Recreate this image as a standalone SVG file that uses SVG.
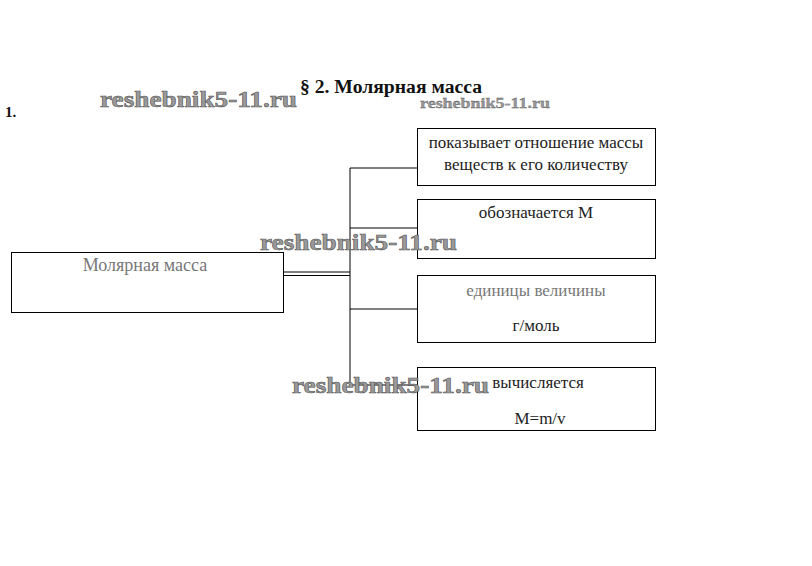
<svg xmlns="http://www.w3.org/2000/svg" width="812" height="566" viewBox="0 0 812 566">
<style>
.box{fill:#fff;stroke:#000;stroke-width:1}
.ln{stroke:#000;stroke-width:1;fill:none}
</style>
<rect width="812" height="566" fill="#fff"/>
<text x="300" y="93" font-family="'Liberation Serif', serif" font-weight="bold" font-size="18.5" fill="#111" textLength="182" lengthAdjust="spacingAndGlyphs">§ 2. Молярная масса</text>
<text x="5" y="117" font-family="'Liberation Serif', serif" font-weight="bold" font-size="15" fill="#111">1.</text>
<g id="connectors">
<line class="ln" x1="350" y1="168" x2="350" y2="385"/>
<line class="ln" x1="350" y1="168" x2="417" y2="168"/>
<line class="ln" x1="350" y1="228" x2="417" y2="228"/>
<line class="ln" x1="350" y1="309" x2="417" y2="309"/>
<line class="ln" x1="350" y1="385" x2="417" y2="385"/>
<line class="ln" x1="283" y1="272" x2="350" y2="272"/>
<line class="ln" x1="283" y1="275.5" x2="350" y2="275.5"/>
</g>
<g font-family="'Liberation Serif', 'Times New Roman', serif" font-size="17" fill="#222" text-anchor="middle">
<g id="n0">
<rect class="box" x="11.5" y="252.5" width="272" height="60"/>
<text x="145" y="271" fill="#777" font-size="18">Молярная масса</text>
</g>
<g id="n1">
<rect class="box" x="417.5" y="128.5" width="238" height="57"/>
<text x="536" y="148">показывает отношение массы</text>
<text x="536" y="170">веществ к его количеству</text>
</g>
<g id="n2">
<rect class="box" x="417.5" y="199.5" width="238" height="59"/>
<text x="536" y="218">обозначается М</text>
</g>
<g id="n3">
<rect class="box" x="417.5" y="275.5" width="238" height="67"/>
<text x="536" y="296" fill="#777">единицы величины</text>
<text x="536" y="331">г/моль</text>
</g>
<g id="n4">
<rect class="box" x="417.5" y="367.5" width="238" height="63"/>
<text x="538" y="388">вычисляется</text>
<text x="540" y="424">M=m/v</text>
</g>
</g>
<g id="watermarks" font-family="'Liberation Serif', serif" font-weight="bold" fill="#9a9a9a" stroke="#555" stroke-width="0.6">
<text x="100" y="107" font-size="24" textLength="197" lengthAdjust="spacingAndGlyphs">reshebnik5-11.ru</text>
<text x="420" y="108" font-size="15" stroke-width="0.3" textLength="130" lengthAdjust="spacingAndGlyphs">reshebnik5-11.ru</text>
<text x="260" y="250" font-size="24" textLength="197" lengthAdjust="spacingAndGlyphs">reshebnik5-11.ru</text>
<text x="292" y="393" font-size="24" textLength="197" lengthAdjust="spacingAndGlyphs">reshebnik5-11.ru</text>
</g>
</svg>
